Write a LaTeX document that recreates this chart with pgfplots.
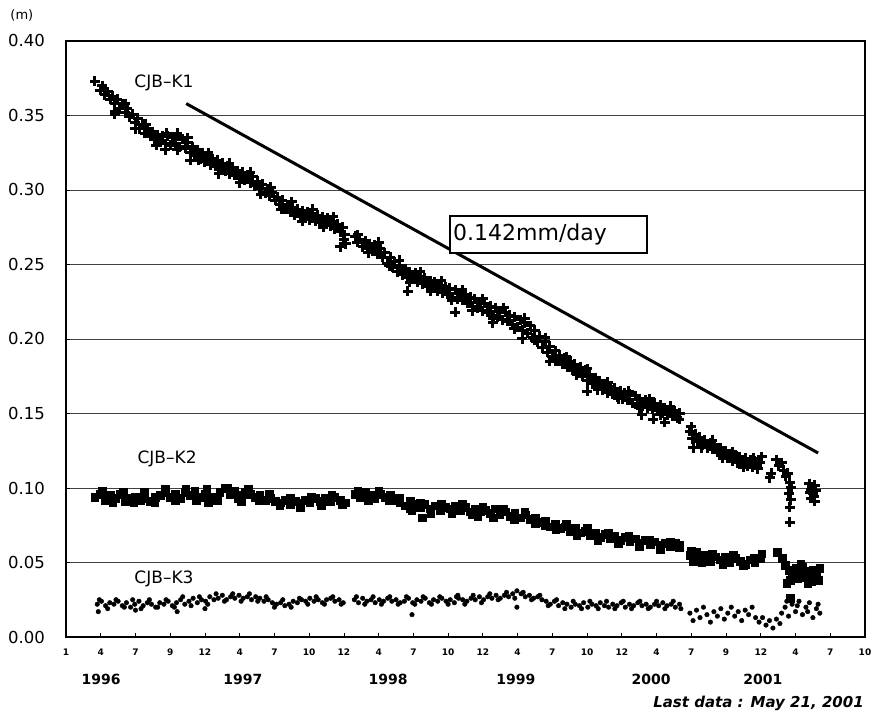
\documentclass[border=0pt]{standalone}
\usepackage{pgfplots}
\pgfplotsset{compat=1.18}
\usepackage{fontspec}
\setmainfont{DejaVu Sans}
\begin{document}
\begin{tikzpicture}
\begin{axis}[
  name=ax, at={(0,0)}, anchor=south west,
  scale only axis, width=799pt, height=596pt,
  xmin=0, xmax=23, ymin=0, ymax=0.4,
  xtick={0,1,2,3,4,5,6,7,8,9,10,11,12,13,14,15,16,17,18,19,20,21,22,23},
  xticklabels={1,4,7,9,12,4,7,10,12,4,7,10,12,4,7,10,12,4,7,9,12,4,7,10},
  ytick={0,0.05,0.1,0.15,0.2,0.25,0.3,0.35,0.4},
  yticklabels={0.00,0.05,0.10,0.15,0.20,0.25,0.30,0.35,0.40},
  ymajorgrids, grid style={black!75, line width=0.9pt},
  axis line style={line width=2.4pt},
  tick align=inside, xtick pos=bottom, ytick pos=left,
  major tick length=4pt, tick style={black, line width=0.8pt},
  xticklabel style={font=\bfseries\fontsize{9}{11}\selectfont, inner sep=0pt, yshift=-12pt},
  yticklabel style={font=\fontsize{16.5}{18}\selectfont, inner sep=0pt, xshift=-21pt},
  clip=false,
]
% trend line
\addplot[black, line width=3pt, no marks] coordinates {(3.46,0.358) (21.65,0.1235)};
% CJB-K1
\addplot[only marks, mark=+, mark size=5pt, line width=3pt, mark options={line width=3pt, black}] table {
0.83 0.373
0.98 0.367
1.05 0.370
1.12 0.364
1.20 0.366
1.27 0.361
1.34 0.363
1.41 0.358
1.41 0.353
1.48 0.361
1.55 0.355
1.62 0.358
1.70 0.352
1.77 0.355
1.84 0.349
1.91 0.351
1.99 0.345
2.06 0.348
2.13 0.341
2.20 0.344
2.27 0.338
2.34 0.341
2.42 0.336
2.49 0.339
2.56 0.334
2.63 0.337
2.71 0.332
2.78 0.336
2.85 0.331
2.85 0.327
2.92 0.336
3.00 0.330
3.07 0.335
3.14 0.331
3.21 0.336
3.20 0.338
3.28 0.329
3.35 0.334
3.43 0.328
3.50 0.332
3.57 0.325
3.57 0.320
3.64 0.329
3.71 0.323
3.78 0.327
3.86 0.321
3.93 0.325
4.00 0.319
4.07 0.323
4.15 0.317
4.22 0.321
4.29 0.316
4.36 0.320
4.43 0.314
4.50 0.318
4.58 0.313
4.65 0.316
4.72 0.311
4.79 0.315
4.86 0.310
4.94 0.313
5.01 0.308
5.08 0.312
5.15 0.307
5.22 0.310
5.30 0.305
5.37 0.309
5.44 0.303
5.51 0.306
5.58 0.301
5.65 0.304
5.73 0.298
5.80 0.301
5.87 0.296
5.94 0.298
6.02 0.293
6.09 0.295
6.16 0.290
6.23 0.293
6.30 0.287
6.37 0.290
6.45 0.285
6.52 0.288
6.59 0.283
6.66 0.287
6.74 0.282
6.81 0.286
6.88 0.281
6.95 0.285
7.02 0.280
7.10 0.284
7.17 0.279
7.24 0.283
7.31 0.278
7.38 0.282
7.46 0.277
7.53 0.281
7.60 0.276
7.67 0.279
7.74 0.274
7.82 0.277
7.89 0.272
7.89 0.262
7.96 0.275
8.03 0.270
8.05 0.264
8.32 0.269
8.39 0.265
8.46 0.267
8.54 0.262
8.61 0.266
8.68 0.261
8.75 0.264
8.82 0.259
8.89 0.263
8.97 0.257
9.04 0.261
9.11 0.255
9.18 0.258
9.25 0.251
9.33 0.255
9.40 0.248
9.47 0.252
9.54 0.245
9.61 0.249
9.69 0.243
9.76 0.247
9.83 0.241
9.84 0.232
9.90 0.245
9.97 0.240
10.05 0.244
10.12 0.238
10.19 0.242
10.26 0.237
10.33 0.241
10.41 0.235
10.48 0.239
10.55 0.234
10.62 0.238
10.69 0.232
10.77 0.236
10.84 0.231
10.91 0.235
10.98 0.230
11.05 0.234
11.13 0.228
11.20 0.233
11.20 0.218
11.27 0.227
11.34 0.231
11.41 0.226
11.49 0.230
11.56 0.224
11.63 0.228
11.70 0.222
11.77 0.227
11.85 0.221
11.92 0.225
11.99 0.219
12.06 0.224
12.13 0.218
12.21 0.222
12.28 0.216
12.29 0.211
12.35 0.221
12.42 0.215
12.49 0.219
12.57 0.213
12.64 0.218
12.71 0.212
12.78 0.216
12.85 0.210
12.92 0.215
13.00 0.208
13.07 0.213
13.13 0.200
13.14 0.206
13.21 0.211
13.28 0.204
13.36 0.209
13.43 0.201
13.50 0.206
13.57 0.198
13.64 0.202
13.71 0.194
13.79 0.198
13.86 0.191
13.93 0.195
13.93 0.185
14.00 0.188
14.08 0.192
14.15 0.186
14.22 0.189
14.29 0.183
14.36 0.187
14.44 0.181
14.51 0.185
14.58 0.179
14.65 0.183
14.72 0.177
14.80 0.181
14.87 0.175
14.94 0.179
15.00 0.165
15.01 0.172
15.08 0.176
15.16 0.170
15.23 0.174
15.30 0.168
15.37 0.172
15.44 0.166
15.52 0.170
15.59 0.164
15.66 0.168
15.73 0.163
15.80 0.167
15.88 0.161
15.95 0.165
16.02 0.160
16.09 0.164
16.16 0.159
16.23 0.163
16.31 0.157
16.38 0.162
16.45 0.156
16.52 0.160
16.58 0.149
16.59 0.155
16.67 0.159
16.74 0.154
16.81 0.158
16.88 0.153
16.90 0.146
16.95 0.157
17.03 0.152
17.10 0.156
17.17 0.150
17.24 0.154
17.24 0.144
17.31 0.149
17.39 0.153
17.46 0.148
17.53 0.152
17.60 0.147
17.67 0.150
17.96 0.138
18.03 0.133
18.05 0.127
18.11 0.136
18.18 0.131
18.25 0.134
18.32 0.129
18.39 0.132
18.47 0.127
18.54 0.130
18.61 0.126
18.68 0.129
18.75 0.124
18.83 0.127
18.90 0.122
18.97 0.125
19.04 0.120
19.11 0.123
19.19 0.118
19.26 0.122
19.33 0.117
19.40 0.121
19.47 0.116
19.55 0.120
19.62 0.115
19.69 0.119
19.76 0.114
19.83 0.118
19.91 0.113
19.98 0.117
20.03 0.121
20.26 0.107
20.30 0.110
20.45 0.119
20.52 0.115
20.60 0.117
20.66 0.112
20.72 0.108
20.78 0.110
20.84 0.104
20.88 0.100
20.80 0.096
20.86 0.092
20.84 0.087
20.84 0.077
21.40 0.103
21.45 0.099
21.50 0.096
21.44 0.093
21.55 0.091
21.48 0.101
21.58 0.098
21.52 0.094
21.42 0.097
21.56 0.102
1.10 0.368
1.40 0.351
1.70 0.358
2.00 0.341
2.30 0.344
2.60 0.330
2.90 0.338
3.20 0.327
3.50 0.335
3.80 0.320
4.10 0.325
4.40 0.311
4.70 0.318
5.00 0.305
5.30 0.312
5.60 0.297
5.90 0.302
6.20 0.287
6.50 0.292
6.80 0.279
7.10 0.287
7.40 0.275
7.70 0.282
8.00 0.267
8.40 0.270
8.70 0.258
9.00 0.265
9.30 0.249
9.60 0.253
9.90 0.238
10.20 0.245
10.50 0.232
10.80 0.239
11.10 0.226
11.40 0.233
11.70 0.219
12.00 0.227
12.30 0.214
12.60 0.221
12.90 0.207
13.20 0.214
13.50 0.199
13.80 0.201
14.10 0.185
14.40 0.188
14.70 0.176
15.00 0.180
15.30 0.166
15.60 0.171
15.90 0.160
16.20 0.165
16.50 0.154
16.80 0.160
17.10 0.149
17.40 0.155
17.65 0.146
18.00 0.141
18.30 0.127
18.60 0.132
18.90 0.120
19.20 0.124
19.50 0.114
19.80 0.120
};
% CJB-K2
\addplot[only marks, mark=square*, mark size=3.8pt, mark options={black, fill=black}] table {
0.83 0.094
0.98 0.096
1.12 0.092
1.27 0.095
1.41 0.093
1.55 0.096
1.70 0.091
1.84 0.093
1.99 0.094
2.13 0.092
2.27 0.093
2.42 0.091
2.56 0.094
2.71 0.095
2.85 0.097
3.00 0.094
3.14 0.096
3.28 0.093
3.43 0.097
3.57 0.095
3.71 0.098
3.86 0.094
4.00 0.096
4.10 0.090
4.15 0.093
4.29 0.094
4.43 0.097
4.58 0.100
4.72 0.096
4.86 0.098
5.01 0.095
5.05 0.091
5.15 0.097
5.30 0.096
5.44 0.094
5.58 0.095
5.73 0.092
5.87 0.093
6.02 0.091
6.16 0.090
6.30 0.092
6.45 0.089
6.59 0.091
6.74 0.090
6.88 0.092
7.02 0.090
7.17 0.093
7.31 0.091
7.46 0.093
7.60 0.091
7.74 0.094
7.89 0.092
8.03 0.090
8.32 0.096
8.46 0.094
8.61 0.097
8.75 0.095
8.89 0.093
9.04 0.096
9.18 0.094
9.33 0.095
9.47 0.092
9.61 0.090
9.76 0.088
9.90 0.091
9.95 0.085
10.05 0.089
10.19 0.087
10.25 0.080
10.33 0.089
10.48 0.086
10.62 0.088
10.77 0.085
10.91 0.087
11.05 0.086
11.20 0.088
11.34 0.085
11.49 0.087
11.63 0.084
11.77 0.086
11.85 0.081
11.92 0.084
12.06 0.085
12.21 0.083
12.35 0.086
12.49 0.082
12.64 0.084
12.78 0.081
12.92 0.083
13.07 0.080
13.21 0.082
13.36 0.079
13.50 0.080
13.64 0.077
13.79 0.075
13.93 0.074
14.08 0.076
14.22 0.073
14.36 0.074
14.51 0.071
14.65 0.073
14.80 0.070
14.94 0.071
15.08 0.068
15.23 0.070
15.37 0.067
15.52 0.069
15.66 0.066
15.80 0.068
15.95 0.065
16.09 0.067
16.23 0.064
16.38 0.066
16.52 0.063
16.67 0.065
16.81 0.062
16.95 0.064
17.10 0.062
17.24 0.063
17.39 0.061
17.53 0.063
17.67 0.062
17.96 0.055
18.05 0.051
18.16 0.057
18.25 0.053
18.39 0.055
18.54 0.051
18.68 0.054
18.83 0.052
18.97 0.054
19.11 0.050
19.26 0.053
19.40 0.051
19.55 0.049
19.69 0.052
19.83 0.050
19.98 0.053
20.03 0.056
20.47 0.057
20.61 0.053
20.70 0.048
20.80 0.045
20.90 0.042
21.00 0.046
21.10 0.043
21.20 0.047
21.30 0.044
21.40 0.040
21.50 0.045
21.60 0.042
21.70 0.046
20.85 0.038
21.05 0.039
21.25 0.040
21.45 0.037
21.65 0.038
20.75 0.036
20.84 0.026
1.05 0.098
1.35 0.090
1.65 0.097
1.95 0.090
2.25 0.097
2.55 0.090
2.85 0.099
3.15 0.092
3.45 0.099
3.75 0.092
4.05 0.099
4.35 0.092
4.65 0.100
4.95 0.093
5.25 0.099
5.55 0.092
5.85 0.096
6.15 0.088
6.45 0.093
6.75 0.087
7.05 0.094
7.35 0.088
7.65 0.095
7.95 0.089
8.40 0.098
8.70 0.092
9.00 0.098
9.30 0.092
9.60 0.093
9.90 0.086
10.20 0.090
10.50 0.083
10.80 0.089
11.10 0.083
11.40 0.089
11.70 0.082
12.00 0.087
12.30 0.080
12.60 0.086
12.90 0.079
13.20 0.084
13.50 0.076
13.80 0.078
14.10 0.072
14.40 0.076
14.70 0.068
15.00 0.073
15.30 0.065
15.60 0.070
15.90 0.063
16.20 0.068
16.50 0.061
16.80 0.065
17.10 0.059
17.40 0.064
17.65 0.060
18.00 0.058
18.30 0.050
18.60 0.056
18.90 0.049
19.20 0.055
19.50 0.048
19.80 0.053
21.15 0.049
21.35 0.036
};
% CJB-K3
\addplot[only marks, mark=*, mark size=2.3pt, mark options={black, fill=black}] table {
0.90 0.022
0.93 0.017
1.02 0.024
1.14 0.021
1.26 0.023
1.38 0.022
1.50 0.024
1.62 0.021
1.74 0.023
1.86 0.020
1.98 0.022
2.00 0.018
2.10 0.024
2.22 0.021
2.34 0.023
2.46 0.022
2.58 0.020
2.70 0.023
2.82 0.022
2.94 0.024
3.06 0.021
3.18 0.023
3.20 0.017
3.30 0.025
3.42 0.022
3.54 0.024
3.66 0.026
3.78 0.023
3.90 0.025
4.00 0.019
4.02 0.024
4.14 0.027
4.26 0.025
4.38 0.026
4.50 0.028
4.62 0.025
4.74 0.027
4.86 0.026
4.98 0.028
5.10 0.026
5.22 0.027
5.34 0.025
5.46 0.027
5.58 0.026
5.70 0.024
5.82 0.025
5.94 0.023
6.06 0.022
6.18 0.023
6.30 0.021
6.42 0.022
6.54 0.024
6.66 0.023
6.78 0.025
6.90 0.024
7.02 0.026
7.14 0.024
7.26 0.025
7.38 0.023
7.50 0.025
7.62 0.026
7.74 0.024
7.86 0.025
7.98 0.023
8.30 0.025
8.42 0.023
8.54 0.026
8.66 0.024
8.78 0.025
8.90 0.023
9.02 0.025
9.14 0.024
9.26 0.026
9.38 0.024
9.50 0.025
9.62 0.023
9.74 0.024
9.86 0.026
9.96 0.015
9.98 0.023
10.10 0.025
10.22 0.024
10.34 0.026
10.46 0.023
10.58 0.025
10.70 0.024
10.82 0.026
10.94 0.024
11.06 0.025
11.18 0.023
11.28 0.028
11.30 0.026
11.42 0.025
11.54 0.024
11.66 0.026
11.78 0.025
11.90 0.027
12.02 0.025
12.14 0.027
12.26 0.026
12.38 0.028
12.50 0.026
12.62 0.028
12.74 0.027
12.86 0.029
12.98 0.031
12.98 0.020
13.10 0.029
13.22 0.027
13.34 0.028
13.46 0.026
13.58 0.027
13.70 0.025
13.82 0.024
13.94 0.022
14.06 0.024
14.18 0.021
14.30 0.023
14.42 0.022
14.54 0.020
14.66 0.022
14.78 0.021
14.90 0.023
15.02 0.020
15.14 0.022
15.26 0.021
15.38 0.023
15.50 0.021
15.62 0.020
15.74 0.022
15.86 0.021
15.98 0.023
16.10 0.020
16.22 0.022
16.34 0.021
16.46 0.023
16.58 0.021
16.70 0.022
16.82 0.020
16.94 0.022
17.06 0.021
17.18 0.023
17.30 0.021
17.42 0.022
17.54 0.020
17.66 0.022
17.96 0.016
18.05 0.011
18.15 0.018
18.25 0.013
18.35 0.020
18.45 0.015
18.55 0.010
18.65 0.017
18.75 0.014
18.85 0.019
18.95 0.012
19.05 0.016
19.15 0.020
19.25 0.014
19.35 0.017
19.45 0.011
19.55 0.018
19.65 0.015
19.75 0.020
19.85 0.013
19.95 0.010
20.05 0.013
20.15 0.008
20.25 0.011
20.35 0.006
20.45 0.012
20.55 0.009
20.60 0.016
20.70 0.020
20.80 0.014
20.90 0.022
21.00 0.017
21.10 0.024
21.20 0.015
21.30 0.020
21.40 0.023
21.50 0.013
21.60 0.019
21.70 0.016
20.75 0.024
21.05 0.021
21.35 0.017
21.65 0.022
0.96 0.025
1.20 0.019
1.44 0.025
1.68 0.020
1.92 0.025
2.16 0.019
2.40 0.025
2.64 0.020
2.88 0.025
3.12 0.020
3.36 0.027
3.60 0.021
3.84 0.027
4.08 0.022
4.32 0.029
4.56 0.024
4.80 0.029
5.04 0.024
5.28 0.029
5.52 0.024
5.76 0.027
6.00 0.020
6.24 0.025
6.48 0.020
6.72 0.026
6.96 0.022
7.20 0.027
7.44 0.022
7.68 0.027
7.92 0.022
8.36 0.027
8.60 0.022
8.84 0.027
9.08 0.022
9.32 0.027
9.56 0.022
9.80 0.027
10.04 0.022
10.28 0.027
10.52 0.022
10.76 0.027
11.00 0.022
11.24 0.027
11.48 0.022
11.72 0.028
11.96 0.023
12.20 0.029
12.44 0.025
12.68 0.030
12.92 0.026
13.16 0.030
13.40 0.025
13.64 0.028
13.88 0.021
14.12 0.025
14.36 0.019
14.60 0.024
14.84 0.019
15.08 0.024
15.32 0.019
15.56 0.024
15.80 0.019
16.04 0.024
16.28 0.019
16.52 0.024
16.76 0.019
17.00 0.024
17.24 0.019
17.48 0.024
17.70 0.019
};
% labels
\node[font=\fontsize{17}{19}\selectfont] at (axis cs:2.82,0.372) {CJB–K1};
\node[font=\fontsize{17}{19}\selectfont] at (axis cs:2.91,0.1195) {CJB–K2};
\node[font=\fontsize{17}{19}\selectfont] at (axis cs:2.82,0.039) {CJB–K3};
\node[draw, line width=1.8pt, fill=white, anchor=north west, minimum width=197pt, minimum height=37pt, text width=190pt, inner sep=3pt, align=left, font=\fontsize{22}{24}\selectfont] at (axis cs:11.02,0.283) {0.142mm/day};
% years
\node[font=\bfseries\fontsize{14}{16}\selectfont] at (axis cs:1.01,-0.0285) {1996};
\node[font=\bfseries\fontsize{14}{16}\selectfont] at (axis cs:5.09,-0.0285) {1997};
\node[font=\bfseries\fontsize{14}{16}\selectfont] at (axis cs:9.27,-0.0285) {1998};
\node[font=\bfseries\fontsize{14}{16}\selectfont] at (axis cs:12.95,-0.0285) {1999};
\node[font=\bfseries\fontsize{14}{16}\selectfont] at (axis cs:16.84,-0.0285) {2000};
\node[font=\bfseries\fontsize{14}{16}\selectfont] at (axis cs:20.06,-0.0285) {2001};
\node[anchor=east, font=\bfseries\itshape\fontsize{15}{17}\selectfont, inner sep=0pt] at (axis cs:22.97,-0.0443) {Last data : May 21, 2001};
\node[font=\fontsize{13}{15}\selectfont] at (axis cs:-1.27,0.417) {(m)};
\end{axis}
\pgfresetboundingbox
\path[use as bounding box] (-66pt,-82pt) rectangle (810pt,637pt);
\end{tikzpicture}
\end{document}
